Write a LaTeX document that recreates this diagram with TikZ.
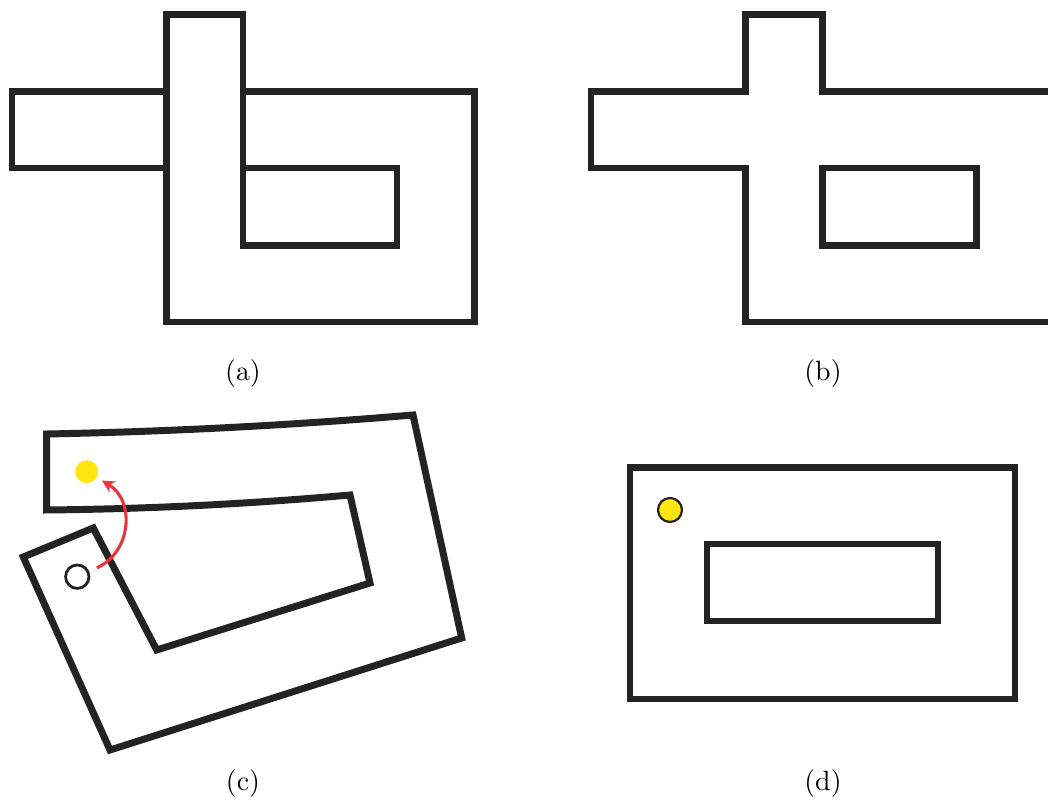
\documentclass[tikz,border=0pt]{standalone}
\usepackage{xcolor,tikz}
\usetikzlibrary{arrows.meta}
\definecolor{Wc}{HTML}{232323}
\definecolor{Gc}{HTML}{FFE612}
\definecolor{Mc}{HTML}{E8343C}
\tikzset{
  wall/.style={draw=Wc, line width=2.5pt, line join=miter},
  goal/.style={circle, fill=Gc, inner sep=0pt, minimum size=8.2pt},
  goalring/.style={goal, draw=Wc, line width=0.8pt, minimum size=8.6pt},
  start/.style={circle, draw=Wc, line width=1pt, inner sep=0pt, minimum size=8.4pt},
  move/.style={-{Stealth[length=4.5pt, width=4.5pt]}, draw=Mc, line width=1.1pt},
  tag/.style={inner sep=0pt},
}

\begin{document}
\begin{tikzpicture}[x=0.0126cm, y=-0.0126cm]
  \useasboundingbox (0,0) rectangle (1048,805);
  % (a) pieces laid over each other
  \draw[wall] (12,91.5) rectangle (166.5,168);
  \draw[wall] (243,91.5) -- (474.5,91.5) -- (474.5,322) -- (166.5,322) -- (166.5,14.5)
    -- (243,14.5) -- (243,245.5) -- (397,245.5) -- (397,168) -- (243,168);
  % (b) merged outline
  \draw[wall] (591,91.5) -- (745.5,91.5) -- (745.5,14.5) -- (822.5,14.5) -- (822.5,91.5)
    -- (1053.5,91.5) -- (1053.5,322) -- (745.5,322) -- (745.5,168) -- (591,168) -- cycle;
  \draw[wall] (822.5,168) rectangle (976.5,245.5);
  % (c) bent room
  \draw[wall] (46.7,510) .. controls (147.8,509) and (248.9,504) .. (350,495) -- (370,583)
    -- (156.7,650) -- (93.3,528) -- (23.3,557) -- (110,750) -- (461.7,638) -- (413,415)
    .. controls (290.9,425.3) and (168.8,431.7) .. (46.7,434) -- cycle;
  \node[goal] (g1) at (86.7,471.7) {};
  \node[start] (s1) at (77.3,576.7) {};
  \draw[move, shorten <=3pt, shorten >=2pt] (s1) .. controls (132,552) and (135,500) .. (g1);
  % (d) flat room
  \draw[wall] (630,467.5) rectangle (1015,699);
  \draw[wall] (707,544) rectangle (938,621);
  \node[goalring] (g2) at (670,510) {};
  % captions
  \node[tag] (ta) at (243,374) {(a)};
  \node[tag] (tb) at (823,374) {(b)};
  \node[tag] (tc) at (243,784) {(c)};
  \node[tag] (td) at (823,784) {(d)};
\end{tikzpicture}
\end{document}
